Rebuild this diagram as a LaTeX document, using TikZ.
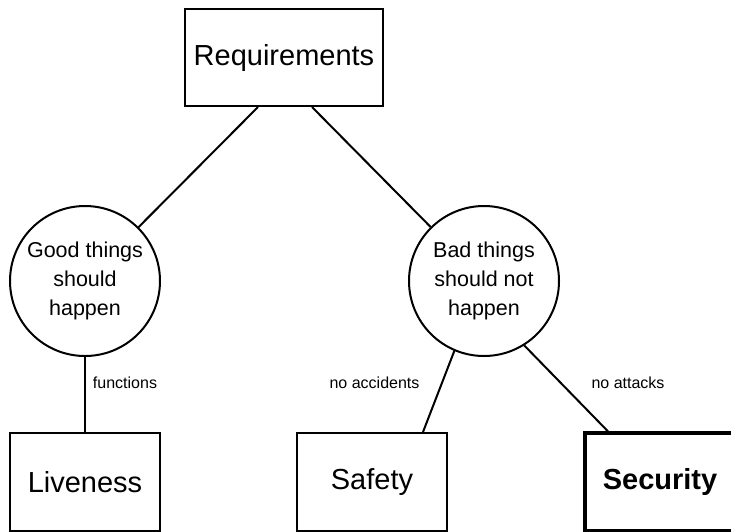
\documentclass[tikz,border=0pt]{standalone}
\usepackage{fontspec}
\setmainfont{Liberation Sans}
\begin{document}
\begin{tikzpicture}[x=1pt,y=-1pt,
  box/.style={draw=black,line width=2pt,fill=white,inner sep=0pt,minimum width=150pt,minimum height=98pt,font=\fontsize{29}{33}\selectfont},
  bigbox/.style={box,minimum width=198pt,minimum height=97pt},
  strongbox/.style={box,line width=3.2pt,font=\fontsize{29}{33}\selectfont\bfseries},
  goal/.style={draw=black,circle,line width=2pt,fill=white,inner sep=0pt,minimum size=150pt,align=center,font=\fontsize{21.5}{29}\selectfont},
  link/.style={draw=black,line width=2pt},
  lbl/.style={inner sep=0pt,font=\fontsize{16}{19}\selectfont}]
\useasboundingbox (0,0) rectangle (731,531);
\node[bigbox] (req) at (284,57.5) {Requirements};
\node[goal] (good) at (85,281) {Good things\\should\\happen};
\node[goal] (bad) at (484,281) {Bad things\\should not\\happen};
\node[box] (live) at (85,482) {Liveness};
\node[box] (safe) at (372,482) {Safety};
\node[strongbox] (sec) at (660,482) {Security};
\draw[link] ([xshift=-26pt]req.south) -- (good);
\draw[link] ([xshift=28pt]req.south) -- (bad);
\draw[link] (good.south) -- (live.north);
\draw[link] (bad.-113) -- ([xshift=51pt]safe.north);
\draw[link] (bad.-58) -- ([xshift=-52pt]sec.north);
\node[lbl] (lf) at (125,383) {functions};
\node[lbl] (la) at (374.5,383) {no accidents};
\node[lbl] (lt) at (628,383) {no attacks};
\end{tikzpicture}
\end{document}
